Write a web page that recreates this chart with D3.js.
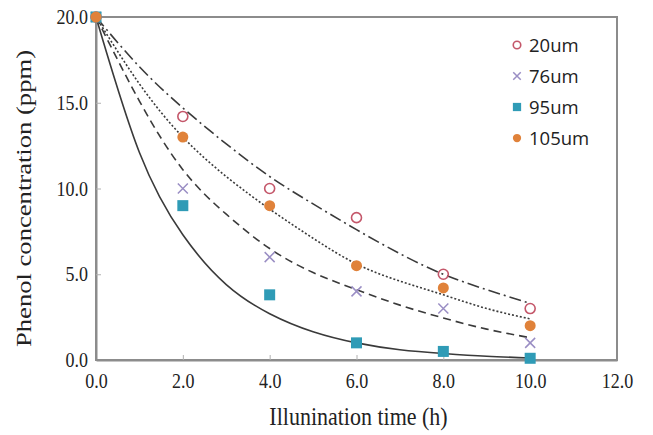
<!DOCTYPE html>
<html><head><meta charset="utf-8">
<script src="https://cdn.jsdelivr.net/npm/d3@7"></script>
<style>body{margin:0;background:#fff}svg{display:block}</style>
</head><body>
<svg id="c" width="653" height="435"></svg>
<script>
// measured data
const times = [0, 2, 4, 6, 8, 10];
const s20  = [20, 14.2, 10, 8.3, 5, 3];
const s76  = [20, 10, 6, 4, 3, 1];
const s95  = [20, 9, 3.8, 1, 0.5, 0.1];
const s105 = [20, 13, 9, 5.5, 4.2, 2];
// fitted curves
const fitT    = [0,1,2,3,4,5,6,7,8,9,10];
const fit20   = [20,17.1,14.7,12.6,10.7,9.1,7.6,6.2,5.0,4.1,3.3];
const fit76   = [20,15.1,11.1,8.5,6.5,5.1,4.1,3.2,2.45,1.8,1.3];
const fit95   = [20,12.1,7.3,4.4,2.7,1.65,1.0,0.6,0.38,0.22,0.12];
const fit105  = [20,16.1,13.0,10.7,8.8,7.1,5.6,4.6,3.8,3.0,2.4];
const xTicks = [0,2,4,6,8,10,12];
const yTicks = [0,5,10,15,20];
const names = ["20um","76um","95um","105um"];

const svg = d3.select("#c");
const L=96, R=617, T=17, B=360;
const x = d3.scaleLinear().domain([0,12]).range([L,R]);
const y = d3.scaleLinear().domain([0,20]).range([B,T]);
const axisCol = "#8c8c8c";
const serif = "'Liberation Serif', 'Times New Roman', serif";

// frame
svg.append("rect").attr("x",L).attr("y",T).attr("width",R-L).attr("height",B-T)
  .attr("fill","none").attr("stroke",axisCol).attr("stroke-width",2);

const gx = svg.append("g").attr("transform",`translate(0,${B})`)
  .call(d3.axisBottom(x).tickValues(xTicks).tickFormat(d3.format(".1f")).tickSizeInner(-5).tickSizeOuter(0).tickPadding(12));
const gy = svg.append("g").attr("transform",`translate(${L},0)`)
  .call(d3.axisLeft(y).tickValues(yTicks).tickFormat(d3.format(".1f")).tickSizeInner(-5).tickSizeOuter(0).tickPadding(8));
[gx,gy].forEach(g=>{
  g.select(".domain").attr("stroke",axisCol).attr("stroke-width",2);
  g.selectAll(".tick line").attr("stroke","#b0b0b0").attr("stroke-width",1);
  g.selectAll(".tick text").attr("font-family",serif).attr("font-size",18).attr("fill","#222")
    .attr("transform","scale(1,1.15)");
});
gx.selectAll(".tick").filter(d=>d===0||d===12).select("line").remove();
gy.selectAll(".tick").filter(d=>d===0||d===20).select("line").remove();

// axis titles
svg.append("text").attr("transform",`translate(${(L+R)/2+2},425) scale(1,1.1)`).attr("text-anchor","middle")
  .attr("font-family",serif).attr("font-size",22).attr("fill","#222")
  .text("Illunination time (h)");
svg.append("text").attr("transform",`translate(31,${(T+B)/2+10}) rotate(-90) scale(1.21,1)`).attr("text-anchor","middle")
  .attr("font-family",serif).attr("font-size",22).attr("fill","#222")
  .text("Phenol concentration (ppm)");

// fitted lines
const line = d3.line().x(d=>x(d[0])).y(d=>y(d[1])).curve(d3.curveNatural);
const fits = [
  {v:fit95, dash:null},
  {v:fit76, dash:"8,5"},
  {v:fit105, dash:"2,2"},
  {v:fit20, dash:"12,4,2,4"}
];
fits.forEach(f=>{
  svg.append("path").datum(fitT.map((t,i)=>[t,f.v[i]])).attr("d",line)
    .attr("fill","none").attr("stroke","#3a3a3a").attr("stroke-width",1.6)
    .attr("stroke-dasharray",f.dash);
});

// markers
const c20="#c4576a", c76="#9a8ec4", c95="#2f9bb6", c105="#e0823a";
function drawMarker(g,type,cx,cy,scale){
  scale = scale||1;
  if(type===0){
    g.append("circle").attr("cx",cx).attr("cy",cy).attr("r",5*scale).attr("fill","none")
     .attr("stroke",c20).attr("stroke-width",1.6);
  } else if(type===1){
    const s=5*scale;
    g.append("path").attr("d",`M${cx-s},${cy-s}L${cx+s},${cy+s}M${cx-s},${cy+s}L${cx+s},${cy-s}`)
     .attr("stroke",c76).attr("stroke-width",1.5).attr("fill","none");
  } else if(type===2){
    const s=5.5*scale;
    g.append("rect").attr("x",cx-s).attr("y",cy-s).attr("width",2*s).attr("height",2*s).attr("fill",c95);
  } else {
    g.append("circle").attr("cx",cx).attr("cy",cy).attr("r",5.5*scale).attr("fill",c105);
  }
}
const series=[s20,s76,s95,s105];
const mg = svg.append("g");
series.forEach((s,k)=>{
  times.forEach((t,i)=>drawMarker(mg,k,x(t),y(s[i])));
});

// legend
const legY=[45,76,107,138];
names.forEach((n,k)=>{
  drawMarker(svg,k,517,legY[k],0.75);
  svg.append("text").attr("x",529).attr("y",legY[k]+7).attr("font-family","'Open Sans', sans-serif")
    .attr("font-size",18.5).attr("fill","#222").text(n);
});
</script>
</body></html>
